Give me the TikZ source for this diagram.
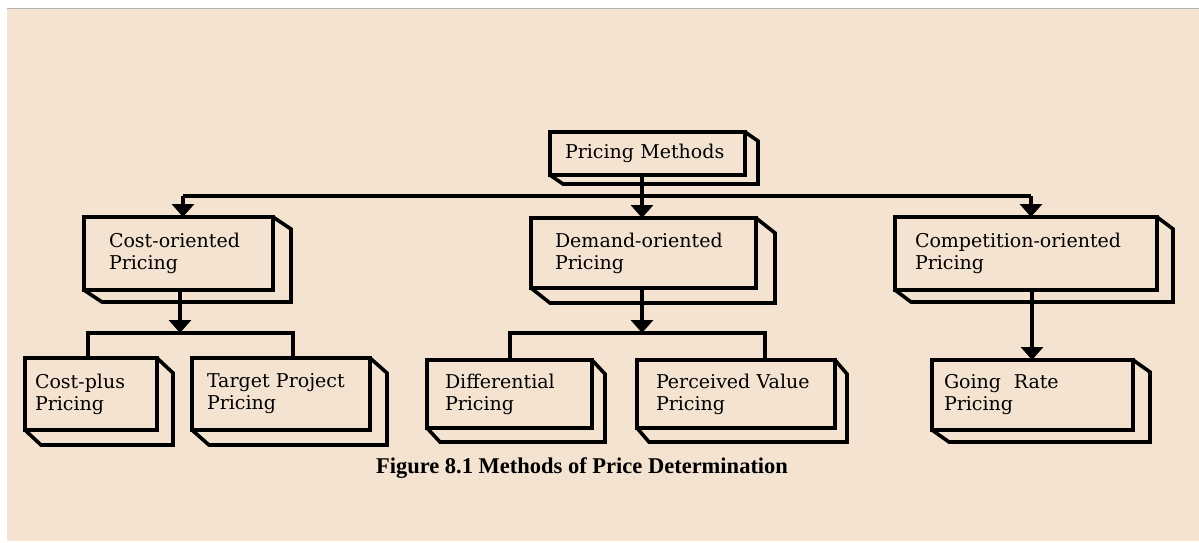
\documentclass[tikz,border=0pt]{standalone}
\usepackage{fontspec}
\setmainfont{DejaVu Serif}
\newfontfamily\capfont{Liberation Serif}
\usetikzlibrary{arrows.meta,calc}
\definecolor{paper}{HTML}{F4E3D0}
\newcommand\depthbox[3]{\draw[conn, line join=miter] (#1.north east) -- ++(#2,#3) |- ($(#1.south west)+(#2,#3)$) -- (#1.south west);}
\begin{document}
\begin{tikzpicture}[x=1pt,y=-1pt,
 box/.style={draw=black, line width=3.6pt, outer sep=0pt, anchor=north west, align=left,
   font=\fontsize{19}{22}\selectfont, inner ysep=0pt},
 conn/.style={line width=3.6pt, black},
 arr/.style={conn, -{Triangle[width=22pt,length=13pt]}},
 caption/.style={font=\capfont\bfseries\fontsize{22.5}{24}\selectfont, anchor=base}
]
\useasboundingbox (0,0) rectangle (1199,542);
\fill[white] (0,0) rectangle (1199,542);
\fill[paper] (7,9) rectangle (1199,541);
\draw[gray!60, line width=1pt] (7,8.5) -- (1199,8.5);

% boxes
\node[box, minimum width=195pt, minimum height=43pt, inner xsep=15pt, text width=165pt] (pm) at (550,132) {Pricing Methods};
\node[box, minimum width=189pt, minimum height=73pt, inner xsep=25pt, text width=139pt] (cost) at (84,217) {Cost-oriented\\Pricing};
\node[box, minimum width=225pt, minimum height=70pt, inner xsep=24pt, text width=177pt] (demand) at (531,218) {Demand-oriented\\Pricing};
\node[box, minimum width=262pt, minimum height=73pt, inner xsep=20pt, text width=222pt] (comp) at (895,217) {Competition-oriented\\Pricing};
\node[box, minimum width=132pt, minimum height=72pt, inner xsep=10pt, text width=112pt] (cplus) at (25,358) {Cost-plus\\Pricing};
\node[box, minimum width=178pt, minimum height=72pt, inner xsep=15pt, text width=148pt] (target) at (192,358) {Target Project\\Pricing};
\node[box, minimum width=165pt, minimum height=68pt, inner xsep=18pt, text width=129pt] (diff) at (427,360) {Differential\\Pricing};
\node[box, minimum width=198pt, minimum height=68pt, inner xsep=19pt, text width=160pt] (perc) at (637,360) {Perceived Value\\Pricing};
\node[box, minimum width=201pt, minimum height=70pt, inner xsep=12pt, text width=177pt] (going) at (932,360) {Going\ \ Rate\\Pricing};

\depthbox{pm}{13}{9}
\depthbox{cost}{18}{12}
\depthbox{demand}{19}{15}
\depthbox{comp}{16}{12}
\depthbox{cplus}{16}{15}
\depthbox{target}{17}{15}
\depthbox{diff}{13}{14}
\depthbox{perc}{12}{14}
\depthbox{going}{17}{12}

% top level connectors
\coordinate (jl) at (183,196);
\coordinate (jm) at (642,196);
\coordinate (jr) at (1031,196);
\draw[conn] (jl) -- (jr);
\draw[arr] (pm.south -| jm) -- (demand.north -| jm);
\draw[arr] (jl) -- (cost.north -| jl);
\draw[arr] (jr) -- (comp.north -| jr);

% cost-oriented branch
\coordinate (cs) at (180,333);
\coordinate (cl) at (88,333);
\coordinate (cr) at (293,333);
\draw[arr] (cost.south -| cs) -- (cs);
\draw[conn] (cl |- cplus.north) |- (cr) -- (cr |- target.north);

% demand-oriented branch
\coordinate (ds) at (642,333);
\coordinate (dl) at (510,333);
\coordinate (dr) at (765,333);
\draw[arr] (demand.south -| ds) -- (ds);
\draw[conn] (dl |- diff.north) |- (dr) -- (dr |- perc.north);

% competition branch
\coordinate (gs) at (1032,300);
\draw[arr] (comp.south -| gs) -- (going.north -| gs);

\node[caption] (cap) at (582,473) {Figure 8.1 Methods of Price Determination};
\end{tikzpicture}
\end{document}
